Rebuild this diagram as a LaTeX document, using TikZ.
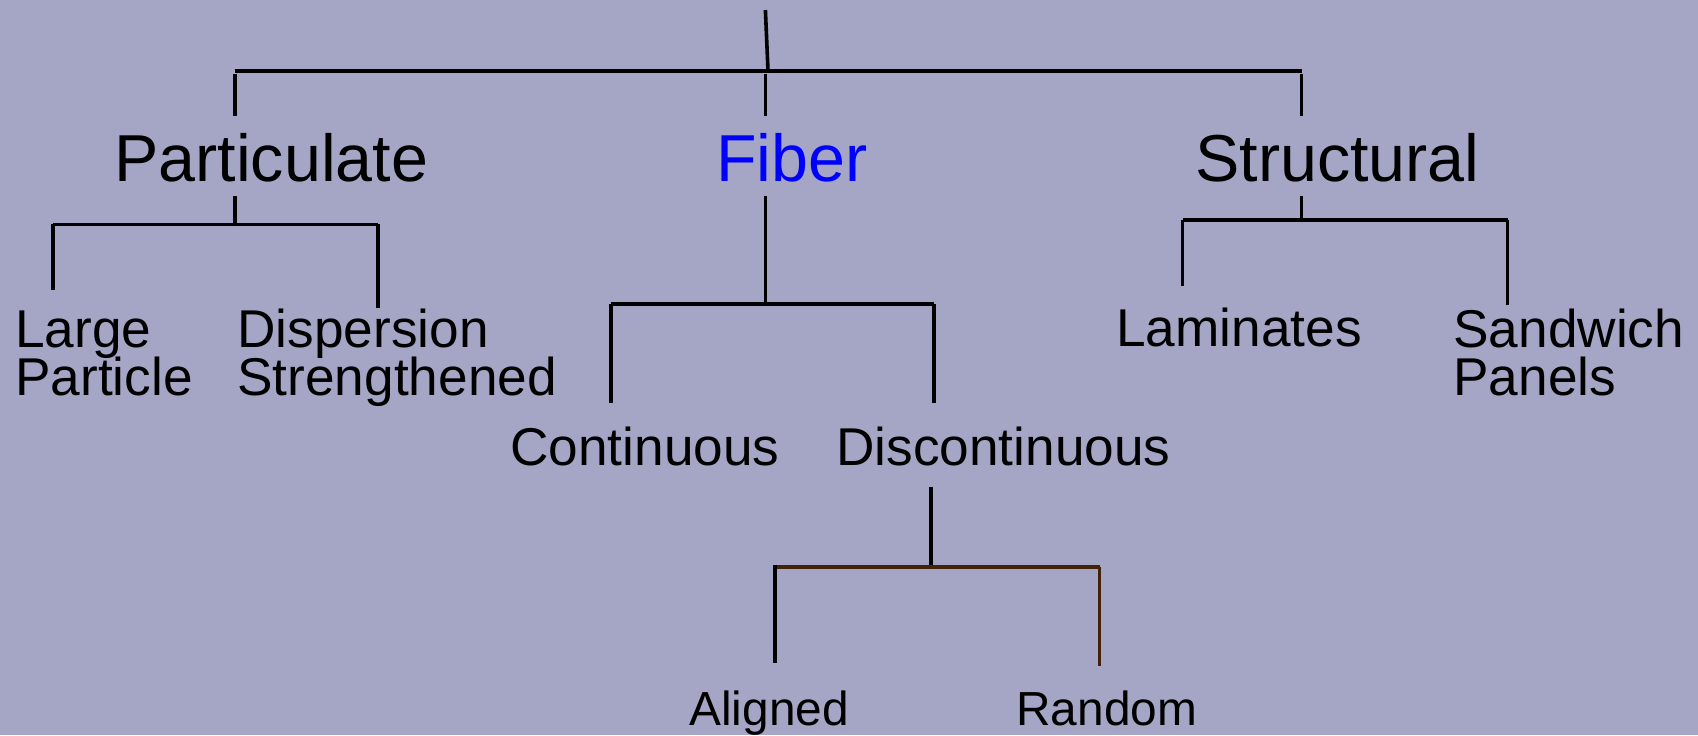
\documentclass[tikz,border=0pt]{standalone}
\usepackage{fontspec}
\setmainfont{Liberation Sans}
\definecolor{paper}{RGB}{165,165,197}
\definecolor{fiberblue}{RGB}{0,0,255}
\definecolor{twig}{RGB}{66,34,8}
% label font with a fixed line pitch, even where glyphs would touch
\newcommand{\labelfont}{\fontsize{26.6}{24.15}\selectfont\lineskiplimit=-100pt\relax}
\begin{document}
\begin{tikzpicture}[x=0.5pt,y=-0.5pt,
  link/.style={line width=1.8pt,line cap=butt},
  twiglink/.style={link,draw=twig},
  big/.style={anchor=base west,inner sep=0pt,font=\fontsize{33.2}{36}\selectfont},
  small/.style={anchor=base west,inner sep=0pt,align=left,font=\labelfont},
  leaf/.style={anchor=base west,inner sep=0pt,font=\fontsize{23.9}{26}\selectfont}]
\fill[paper] (0,0) rectangle (1698,735);
\useasboundingbox (0,0) rectangle (1698,735);

% first level
\node[big] (part) at (114,181.7) {Particulate};
\node[big,text=fiberblue] (fib) at (716,181.7) {Fiber};
\node[big] (struc) at (1195,181.7) {Structural};
% second level (multi-line nodes sit on their last baseline)
\node[small] (large) at (15,395.3) {Large\\Particle};
\node[small] (disp) at (237,395.3) {Dispersion\\Strengthened};
\node[small] (lam) at (1116,346.7) {Laminates};
\node[small] (sand) at (1453,395.3) {Sandwich\\Panels};
\node[small] (cont) at (510,465) {Continuous};
\node[small] (disc) at (836,465) {Discontinuous};
% third level
\node[leaf] (ali) at (689,725) {Aligned};
\node[leaf] (rnd) at (1016,725) {Random};

% root stem and top bar
\coordinate (root) at (765.4,10);
\coordinate (hub) at (768,70.7);
\coordinate (barL) at (234.7,70.7);
\coordinate (barR) at (1301.6,70.7);
\draw[link] (root) -- (hub);
\draw[link] (barL) -- (barR);
\draw[link] ([yshift=-1.6pt]barL) -- (234.7,115.7) coordinate (partIn);
\draw[link] (765.4,74) -- (765.4,115.7) coordinate (fibIn);
\draw[link] ([yshift=-1.6pt]barR) -- (1301.6,115.7) coordinate (strucIn);

% particulate branch
\coordinate (partOut) at (234.7,196);
\coordinate (pJ) at (234.7,224.3);
\draw[link] (partOut) -- (pJ);
\draw[link] (53.1,224.3) -- (377.8,224.3);
\draw[link] (53.1,224.3) -- (53.1,290) coordinate (largeIn);
\draw[link] (377.8,224.3) -- (377.8,308.3) coordinate (dispIn);

% fiber branch
\coordinate (fibOut) at (765.4,196);
\coordinate (fJ) at (765.4,304);
\draw[link] (fibOut) -- (fJ);
\draw[link] (611,304) -- (933.8,304);
\draw[link] (611,304) -- (611,403) coordinate (contIn);
\draw[link] (933.8,304) -- (933.8,403) coordinate (discIn);

% structural branch
\coordinate (strucOut) at (1301.6,196);
\coordinate (sJ) at (1301.6,220);
\draw[link] (strucOut) -- (sJ);
\draw[link] (1182.6,220) -- (1507.6,220);
\draw[link] (1182.6,220) -- (1182.6,286) coordinate (lamIn);
\draw[link] (1507.6,220) -- (1507.6,305) coordinate (sandIn);

% discontinuous branch
\coordinate (discOut) at (930.7,487.3);
\coordinate (dJ) at (930.7,566.7);
\draw[link] (discOut) -- (dJ);
\draw[twiglink] (775,566.7) -- (1099.5,566.7);
\draw[link] (775,565) -- (775,662.7) coordinate (aliIn);
\draw[twiglink] (1099.5,566.7) -- (1099.5,666) coordinate (rndIn);
\end{tikzpicture}
\end{document}
